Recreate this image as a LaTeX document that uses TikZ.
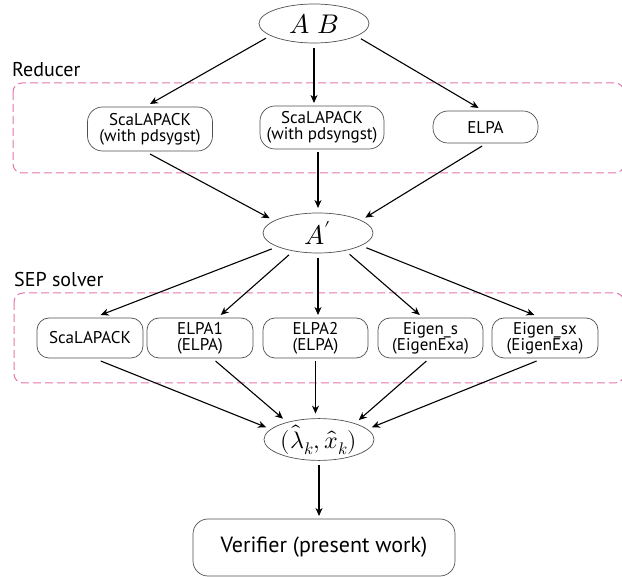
\documentclass[tikz,border=0pt]{standalone}
\usepackage{fontspec}
\usepackage{unicode-math}
\setmainfont{PT Sans}
\setmathfont{Latin Modern Math}
\usetikzlibrary{shapes.geometric,arrows.meta}
\definecolor{bordergray}{RGB}{80,80,80}
\definecolor{dashpink}{RGB}{228,118,172}
\begin{document}
\begin{tikzpicture}[x=1pt,y=-1pt,
 ell/.style={ellipse, draw=bordergray, line width=0.7pt, inner sep=0pt, outer sep=5pt},
 rbox/.style={rectangle, draw=bordergray, line width=0.7pt, align=center, inner sep=0pt, outer sep=3pt, font=\fontsize{17}{16}\selectfont},
 grp/.style={draw=dashpink, dash pattern=on 8pt off 4pt, line width=1pt, rounded corners=9pt},
 grplabel/.style={anchor=base west, font=\fontsize{20}{24}\selectfont, inner sep=0pt},
 arr/.style={-{Stealth[length=8pt,width=7pt,inset=2.5pt]}, line width=1.1pt}]
\useasboundingbox (0,0) rectangle (622,577);

% groups
\draw[grp] (13,83) rectangle (624,173);
\draw[grp] (14,293) rectangle (624,383);
\node[grplabel] (redlab) at (12,77) {Reducer};
\node[grplabel] (seplab) at (14,287) {SEP solver};

% nodes
\node[ell, minimum width=110pt, minimum height=39pt] (AB) at (314,23.5) {\fontsize{27}{30}\selectfont $A\ B$};
\node[rbox, rounded corners=15pt, minimum width=125pt, minimum height=44pt] (R1) at (150,129) {ScaLAPACK\\(with pdsygst)};
\node[rbox, rounded corners=15pt, minimum width=124pt, minimum height=43pt] (R2) at (322,127.5) {ScaLAPACK\\(with pdsyngst)};
\node[rbox, rounded corners=15pt, minimum width=105pt, minimum height=32pt] (R3) at (485.5,127) {ELPA};
\node[ell, minimum width=110pt, minimum height=40pt] (Ap) at (318,233) {\fontsize{27}{30}\selectfont $A'$};
\node[rbox, rounded corners=12pt, minimum width=106pt, minimum height=40pt] (S1) at (90,338) {ScaLAPACK};
\node[rbox, rounded corners=12pt, minimum width=106pt, minimum height=40pt] (S2) at (200,338) {ELPA1\\(ELPA)};
\node[rbox, rounded corners=12pt, minimum width=105pt, minimum height=40pt] (S3) at (315.5,338) {ELPA2\\(ELPA)};
\node[rbox, rounded corners=12pt, minimum width=105pt, minimum height=40pt] (S4) at (430.5,338) {Eigen\_s\\(EigenExa)};
\node[rbox, rounded corners=12pt, minimum width=106pt, minimum height=40pt] (S5) at (545,338) {Eigen\_sx\\(EigenExa)};
\node[ell, minimum width=110pt, minimum height=41pt] (L) at (319,439.5) {\fontsize{24}{28}\selectfont $(\hat\lambda_k,\hat x_k)$};
\node[rbox, rounded corners=15pt, minimum width=262pt, minimum height=57pt, font=\fontsize{22}{26}\selectfont] (V) at (324,547.5) {Verifier (present work)};

% connectors
\draw[arr] (AB.197) -- (R1.north);
\draw[arr] (AB.south) -- (AB.south |- R2.north);
\draw[arr] (AB.-18) -- (R3.110);
\draw[arr] (R1.south) -- (Ap.163);
\draw[arr] (R2.south -| Ap.north) -- (Ap.north);
\draw[arr] (R3.-100) -- (Ap.18);
\draw[arr] (Ap.199) -- (S1.65);
\draw[arr] (Ap.217) -- (S2.48);
\draw[arr] (Ap.south) -- (Ap.south |- S3.north);
\draw[arr] (Ap.-34) -- (S4.115);
\draw[arr] (Ap.-17) -- (S5.115);
\draw[arr] (S1.-65) -- (L.167);
\draw[arr] (S2.-56) -- (L.150);
\draw[arr] (S3.south) -- (S3.south |- L.north);
\draw[arr] (S4.-100) -- (L.26);
\draw[arr] (S5.-110) -- (L.13);
\draw[arr] (L.south) -- (L.south |- V.north);
\end{tikzpicture}
\end{document}
